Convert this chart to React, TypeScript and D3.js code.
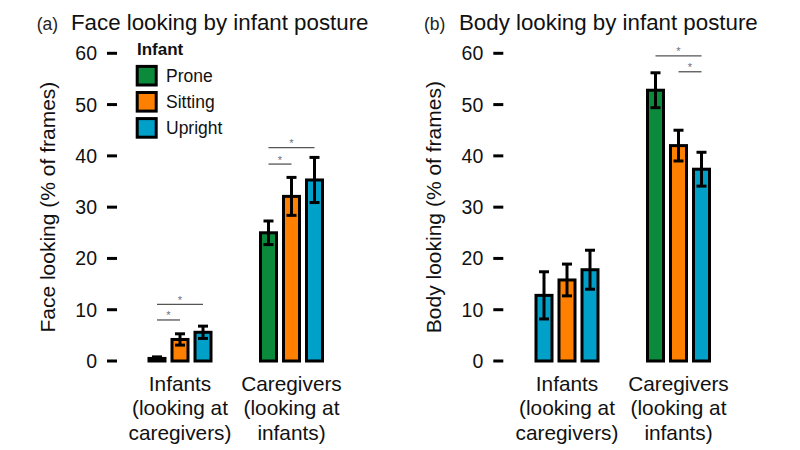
import React from "react";
import * as d3 from "d3";

const categories = ["Infants", "Caregivers"];
const categoryLines = [
  ["Infants", "(looking at", "caregivers)"],
  ["Caregivers", "(looking at", "infants)"],
];
const postures = ["Prone", "Sitting", "Upright"];
const postureColors = ["#0b8a3b", "#ff8000", "#00a0c8"];

// Panel (a) face looking: [group][posture]
const faceMeans = [
  [0.5, 4.2, 5.6],
  [25.0, 32.1, 35.3],
];
const faceErr = [
  [0.3, 1.1, 1.2],
  [2.3, 3.7, 4.4],
];
// Panel (b) body looking
const bodyMeans = [
  [12.8, 15.8, 17.8],
  [52.8, 42.0, 37.4],
];
const bodyErr = [
  [4.6, 3.1, 3.8],
  [3.4, 3.0, 3.3],
];
// fill colour index per bar (first infants bar in panel b is blue in the original)
const bodyColorIdx = [
  [2, 1, 2],
  [0, 1, 2],
];
const faceColorIdx = [
  [0, 1, 2],
  [0, 1, 2],
];

const yTicks = [0, 10, 20, 30, 40, 50, 60];

// significance brackets: [group, fromPosture, toPosture, yValue]
const faceSig: [number, number, number, number][] = [
  [0, 0, 2, 11.05],
  [0, 0, 1, 8.0],
  [1, 0, 2, 41.6],
  [1, 0, 1, 38.4],
];
const bodySig: [number, number, number, number][] = [
  [1, 0, 2, 59.5],
  [1, 1, 2, 56.4],
];

const FONT = "'Liberation Sans', Arial, Helvetica, sans-serif";

type PanelProps = {
  letter: string;
  title: string;
  ylabel: string;
  means: number[][];
  errs: number[][];
  colorIdx: number[][];
  sig: [number, number, number, number][];
  axisX: number;
  groupRange: [number, number];
  legend?: boolean;
  titleX: number;
  letterX: number;
};

function Panel(p: PanelProps) {
  const y = d3.scaleLinear().domain([0, 60]).range([361, 53.3]);
  const gx = d3.scalePoint<string>().domain(categories).range(p.groupRange);
  const ix = d3.scalePoint<string>().domain(postures).range([-23, 23]);
  const barW = 16;
  const capW = 10;
  const barX = (g: number, k: number) => (gx(categories[g]) as number) + (ix(postures[k]) as number);

  return (
    <g fontFamily={FONT}>
      <text x={p.letterX} y={30} fontSize={17.5} fill="#222">{p.letter}</text>
      <text x={p.titleX} y={30} fontSize={22.3} fill="#111">{p.title}</text>
      {yTicks.map((t) => (
        <g key={t}>
          <line x1={p.axisX} x2={p.axisX + 10} y1={y(t)} y2={y(t)} stroke="#000" strokeWidth={3} />
          <text x={p.axisX - 10} y={y(t) + 7} fontSize={19.5} textAnchor="end" fill="#111">{t}</text>
        </g>
      ))}
      <text
        transform={`translate(${p.axisX - 52},${(y(0) + y(60)) / 2}) rotate(-90)`}
        textAnchor="middle"
        fontSize={21}
        fill="#111"
      >
        {p.ylabel}
      </text>
      {p.means.map((row, g) =>
        row.map((m, k) => {
          const cx = barX(g, k);
          const e = p.errs[g][k];
          return (
            <g key={`${g}-${k}`}>
              <rect
                x={cx - barW / 2}
                y={y(m)}
                width={barW}
                height={y(0) - y(m)}
                fill={postureColors[p.colorIdx[g][k]]}
                stroke="#000"
                strokeWidth={3}
              />
              <line x1={cx} x2={cx} y1={y(m + e)} y2={y(m - e)} stroke="#000" strokeWidth={3} />
              <line x1={cx - capW / 2} x2={cx + capW / 2} y1={y(m + e)} y2={y(m + e)} stroke="#000" strokeWidth={3} />
              <line x1={cx - capW / 2} x2={cx + capW / 2} y1={y(m - e)} y2={y(m - e)} stroke="#000" strokeWidth={3} />
            </g>
          );
        })
      )}
      {p.sig.map(([g, a, b, v], i) => {
        const x1 = barX(g, a);
        const x2 = barX(g, b);
        return (
          <g key={i}>
            <line x1={x1} x2={x2} y1={y(v)} y2={y(v)} stroke="#555" strokeWidth={1.3} />
            <text x={(x1 + x2) / 2} y={y(v) - 0.5} fontSize={11} textAnchor="middle" fill="#6a7080">*</text>
          </g>
        );
      })}
      {categoryLines.map((lines, g) => (
        <text key={g} textAnchor="middle" fontSize={20.8} fill="#111">
          {lines.map((l, j) => (
            <tspan key={j} x={gx(categories[g]) as number} y={390.7 + j * 24.7}>{l}</tspan>
          ))}
        </text>
      ))}
      {p.legend && (
        <g>
          <text x={137} y={55} fontSize={17} fontWeight="bold" fill="#111">Infant</text>
          {postures.map((name, k) => {
            const cy = 75.7 + k * 26.1;
            return (
              <g key={name}>
                <rect x={137.2} y={cy - 9.3} width={19} height={18.6} fill={postureColors[k]} stroke="#000" strokeWidth={3} />
                <text x={166} y={cy + 6} fontSize={17.5} fill="#111">{name}</text>
              </g>
            );
          })}
        </g>
      )}
    </g>
  );
}

export default function App() {
  return (
    <svg width={800} height={450} style={{ position: "absolute", left: 0, top: 0, background: "#fff" }}>
      <rect width={800} height={450} fill="#fff" />
      <Panel
        letter="(a)"
        title="Face looking by infant posture"
        ylabel="Face looking (% of frames)"
        means={faceMeans}
        errs={faceErr}
        colorIdx={faceColorIdx}
        sig={faceSig}
        axisX={107}
        groupRange={[180, 291.5]}
        legend
        letterX={36.7}
        titleX={71}
      />
      <Panel
        letter="(b)"
        title="Body looking by infant posture"
        ylabel="Body looking (% of frames)"
        means={bodyMeans}
        errs={bodyErr}
        colorIdx={bodyColorIdx}
        sig={bodySig}
        axisX={493.3}
        groupRange={[567, 678.5]}
        letterX={424}
        titleX={459}
      />
    </svg>
  );
}
